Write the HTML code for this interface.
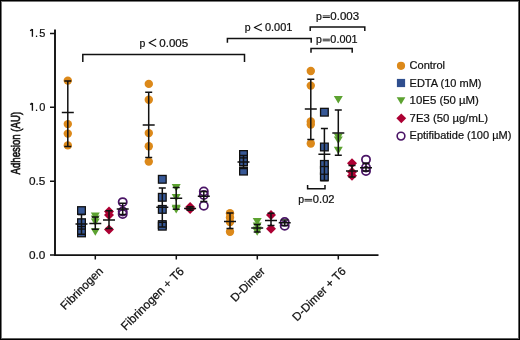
<!DOCTYPE html>
<html><head><meta charset="utf-8"><style>
html,body{margin:0;padding:0;background:#fff;}
body{width:520px;height:340px;overflow:hidden;}
svg{display:block;will-change:transform;}
</style></head><body>
<svg width="520" height="340" viewBox="0 0 520 340">
<rect x="0" y="0" width="520" height="340" fill="#fff"/>

<g stroke="#111" fill="none">
<path d="M55 29.6V255.1H378.5" stroke-width="1.9"/>
<path d="M50 33.4H55M50 107.3H55M50 181.2H55M50 255.1H55" stroke-width="1.5"/>
<path d="M95.3 255V259.6M176.3 255V259.6M257.3 255V259.6M338.3 255V259.6" stroke-width="1.5"/>
</g>
<g stroke="#111" fill="none" stroke-width="1.5">
<path d="M82.8 62V54.5H244.5V62"/>
<path d="M227.4 42.7V38.5H311.2V42.7"/>
<path d="M310.2 31V27H364.8V31"/>
<path d="M311 52.8V48.5H352.2V52.8"/>
<path d="M307.6 185V188.8H325V185"/>
</g>

<circle cx="67.8" cy="80.6" r="4.2" fill="#DC891A"/>
<circle cx="67.8" cy="124.1" r="4.2" fill="#DC891A"/>
<circle cx="67.8" cy="133.6" r="4.2" fill="#DC891A"/>
<circle cx="67.8" cy="145.4" r="4.2" fill="#DC891A"/>
<path d="M67.80 80.90V146.60M64.30 80.90H71.30M64.30 146.60H71.30M61.80 112.50H73.80" stroke="#111" stroke-width="1.5" fill="none"/>
<rect x="77.65" y="206.75" width="7.7" height="7.7" fill="#375896" stroke="#111" stroke-width="1.3"/>
<rect x="77.65" y="222.65" width="7.7" height="7.7" fill="#375896" stroke="#111" stroke-width="1.3"/>
<rect x="77.65" y="218.85" width="7.7" height="7.7" fill="#375896" stroke="#111" stroke-width="1.3"/>
<rect x="77.65" y="229.05" width="7.7" height="7.7" fill="#375896" stroke="#111" stroke-width="1.3"/>
<path d="M81.50 214.40V234.30M78.00 214.40H85.00M78.00 234.30H85.00M75.50 224.00H87.50" stroke="#111" stroke-width="1.5" fill="none"/>
<path d="M90.80 212.40H99.80L95.30 219.90Z" fill="#5CA230"/>
<path d="M90.80 215.50H99.80L95.30 223.00Z" fill="#5CA230"/>
<path d="M90.80 218.50H99.80L95.30 226.00Z" fill="#5CA230"/>
<path d="M90.80 228.30H99.80L95.30 235.80Z" fill="#5CA230"/>
<path d="M95.30 217.10V229.20M91.80 217.10H98.80M91.80 229.20H98.80M89.30 223.40H101.30" stroke="#111" stroke-width="1.5" fill="none"/>
<path d="M109.00 206.60L114.00 211.60L109.00 216.60L104.00 211.60Z" fill="#AC0033"/>
<path d="M109.00 210.00L114.00 215.00L109.00 220.00L104.00 215.00Z" fill="#AC0033"/>
<path d="M109.00 224.50L114.00 229.50L109.00 234.50L104.00 229.50Z" fill="#AC0033"/>
<path d="M109.00 210.70V228.50M105.50 210.70H112.50M105.50 228.50H112.50M103.00 219.90H115.00" stroke="#111" stroke-width="1.5" fill="none"/>
<circle cx="122.7" cy="202.1" r="4.1" fill="none" stroke="#4A1466" stroke-width="1.75"/>
<circle cx="122.7" cy="211.5" r="4.1" fill="none" stroke="#4A1466" stroke-width="1.75"/>
<circle cx="122.7" cy="214.0" r="4.1" fill="none" stroke="#4A1466" stroke-width="1.75"/>
<path d="M122.70 203.20V214.50M119.20 203.20H126.20M119.20 214.50H126.20M116.70 208.90H128.70" stroke="#111" stroke-width="1.5" fill="none"/>
<circle cx="148.8" cy="83.9" r="4.2" fill="#DC891A"/>
<circle cx="148.8" cy="99.8" r="4.2" fill="#DC891A"/>
<circle cx="148.8" cy="133.1" r="4.2" fill="#DC891A"/>
<circle cx="148.8" cy="146.2" r="4.2" fill="#DC891A"/>
<circle cx="148.8" cy="161.6" r="4.2" fill="#DC891A"/>
<path d="M148.70 92.20V157.40M145.20 92.20H152.20M145.20 157.40H152.20M142.70 125.00H154.70" stroke="#111" stroke-width="1.5" fill="none"/>
<rect x="158.45" y="175.45" width="7.7" height="7.7" fill="#375896" stroke="#111" stroke-width="1.3"/>
<rect x="158.45" y="193.45" width="7.7" height="7.7" fill="#375896" stroke="#111" stroke-width="1.3"/>
<rect x="158.45" y="205.55" width="7.7" height="7.7" fill="#375896" stroke="#111" stroke-width="1.3"/>
<rect x="158.45" y="220.75" width="7.7" height="7.7" fill="#375896" stroke="#111" stroke-width="1.3"/>
<rect x="158.45" y="222.35" width="7.7" height="7.7" fill="#375896" stroke="#111" stroke-width="1.3"/>
<path d="M162.30 187.90V227.10M158.80 187.90H165.80M158.80 227.10H165.80M156.30 207.20H168.30" stroke="#111" stroke-width="1.5" fill="none"/>
<path d="M171.70 183.90H180.70L176.20 191.40Z" fill="#5CA230"/>
<path d="M171.70 193.90H180.70L176.20 201.40Z" fill="#5CA230"/>
<path d="M171.70 204.80H180.70L176.20 212.30Z" fill="#5CA230"/>
<path d="M171.70 206.00H180.70L176.20 213.50Z" fill="#5CA230"/>
<path d="M176.20 187.60V209.20M172.70 187.60H179.70M172.70 209.20H179.70M170.20 198.20H182.20" stroke="#111" stroke-width="1.5" fill="none"/>
<path d="M190.10 201.90L195.10 206.90L190.10 211.90L185.10 206.90Z" fill="#AC0033"/>
<path d="M190.10 203.90L195.10 208.90L190.10 213.90L185.10 208.90Z" fill="#AC0033"/>
<path d="M190.10 206.80V210.20M186.60 206.80H193.60M186.60 210.20H193.60M184.10 208.40H196.10" stroke="#111" stroke-width="1.5" fill="none"/>
<circle cx="203.8" cy="191.5" r="4.1" fill="none" stroke="#4A1466" stroke-width="1.75"/>
<circle cx="203.8" cy="195.0" r="4.1" fill="none" stroke="#4A1466" stroke-width="1.75"/>
<circle cx="203.8" cy="205.8" r="4.1" fill="none" stroke="#4A1466" stroke-width="1.75"/>
<path d="M203.80 191.40V201.50M200.30 191.40H207.30M200.30 201.50H207.30M197.80 196.30H209.80" stroke="#111" stroke-width="1.5" fill="none"/>
<circle cx="230.0" cy="213.2" r="4.2" fill="#DC891A"/>
<circle cx="230.0" cy="217.5" r="4.2" fill="#DC891A"/>
<circle cx="230.0" cy="222.0" r="4.2" fill="#DC891A"/>
<circle cx="230.0" cy="231.8" r="4.2" fill="#DC891A"/>
<path d="M230.00 213.00V228.50M226.50 213.00H233.50M226.50 228.50H233.50M224.00 221.50H236.00" stroke="#111" stroke-width="1.5" fill="none"/>
<rect x="239.65" y="150.65" width="7.7" height="7.7" fill="#375896" stroke="#111" stroke-width="1.3"/>
<rect x="239.65" y="157.95" width="7.7" height="7.7" fill="#375896" stroke="#111" stroke-width="1.3"/>
<rect x="239.65" y="167.25" width="7.7" height="7.7" fill="#375896" stroke="#111" stroke-width="1.3"/>
<path d="M243.50 155.60V168.40M240.00 155.60H247.00M240.00 168.40H247.00M237.50 162.00H249.50" stroke="#111" stroke-width="1.5" fill="none"/>
<path d="M252.70 217.90H261.70L257.20 225.40Z" fill="#5CA230"/>
<path d="M252.70 222.50H261.70L257.20 230.00Z" fill="#5CA230"/>
<path d="M252.70 226.50H261.70L257.20 234.00Z" fill="#5CA230"/>
<path d="M252.70 228.30H261.70L257.20 235.80Z" fill="#5CA230"/>
<path d="M257.20 224.50V232.00M253.70 224.50H260.70M253.70 232.00H260.70M251.20 228.00H263.20" stroke="#111" stroke-width="1.5" fill="none"/>
<path d="M271.00 210.00L276.00 215.00L271.00 220.00L266.00 215.00Z" fill="#AC0033"/>
<path d="M271.00 223.70L276.00 228.70L271.00 233.70L266.00 228.70Z" fill="#AC0033"/>
<path d="M271.00 213.20V225.60M267.50 213.20H274.50M267.50 225.60H274.50M265.00 220.60H277.00" stroke="#111" stroke-width="1.5" fill="none"/>
<circle cx="284.7" cy="221.9" r="4.1" fill="none" stroke="#4A1466" stroke-width="1.75"/>
<circle cx="284.7" cy="225.8" r="4.1" fill="none" stroke="#4A1466" stroke-width="1.75"/>
<path d="M284.70 220.10V225.60M281.20 220.10H288.20M281.20 225.60H288.20M278.70 222.70H290.70" stroke="#111" stroke-width="1.5" fill="none"/>
<circle cx="310.8" cy="71.0" r="4.2" fill="#DC891A"/>
<circle cx="310.8" cy="85.6" r="4.2" fill="#DC891A"/>
<circle cx="310.8" cy="121.5" r="4.2" fill="#DC891A"/>
<circle cx="310.8" cy="124.5" r="4.2" fill="#DC891A"/>
<circle cx="310.8" cy="143.5" r="4.2" fill="#DC891A"/>
<path d="M310.80 79.20V139.60M307.30 79.20H314.30M307.30 139.60H314.30M304.80 109.00H316.80" stroke="#111" stroke-width="1.5" fill="none"/>
<rect x="320.55" y="108.35" width="7.7" height="7.7" fill="#375896" stroke="#111" stroke-width="1.3"/>
<rect x="320.55" y="143.15" width="7.7" height="7.7" fill="#375896" stroke="#111" stroke-width="1.3"/>
<rect x="320.55" y="160.55" width="7.7" height="7.7" fill="#375896" stroke="#111" stroke-width="1.3"/>
<rect x="320.55" y="173.05" width="7.7" height="7.7" fill="#375896" stroke="#111" stroke-width="1.3"/>
<rect x="320.55" y="166.55" width="7.7" height="7.7" fill="#375896" stroke="#111" stroke-width="1.3"/>
<path d="M324.40 128.60V180.60M320.90 128.60H327.90M320.90 180.60H327.90M318.40 154.20H330.40" stroke="#111" stroke-width="1.5" fill="none"/>
<path d="M333.80 96.00H342.80L338.30 103.50Z" fill="#5CA230"/>
<path d="M333.80 133.50H342.80L338.30 141.00Z" fill="#5CA230"/>
<path d="M333.80 136.50H342.80L338.30 144.00Z" fill="#5CA230"/>
<path d="M333.80 146.80H342.80L338.30 154.30Z" fill="#5CA230"/>
<path d="M338.30 110.10V155.30M334.80 110.10H341.80M334.80 155.30H341.80M332.30 132.90H344.30" stroke="#111" stroke-width="1.5" fill="none"/>
<path d="M352.00 158.30L357.00 163.30L352.00 168.30L347.00 163.30Z" fill="#AC0033"/>
<path d="M352.00 167.00L357.00 172.00L352.00 177.00L347.00 172.00Z" fill="#AC0033"/>
<path d="M352.00 170.70L357.00 175.70L352.00 180.70L347.00 175.70Z" fill="#AC0033"/>
<path d="M352.00 165.40V177.00M348.50 165.40H355.50M348.50 177.00H355.50M346.00 171.10H358.00" stroke="#111" stroke-width="1.5" fill="none"/>
<circle cx="366.0" cy="159.6" r="4.1" fill="none" stroke="#4A1466" stroke-width="1.75"/>
<circle cx="366.0" cy="167.5" r="4.1" fill="none" stroke="#4A1466" stroke-width="1.75"/>
<circle cx="366.0" cy="171.0" r="4.1" fill="none" stroke="#4A1466" stroke-width="1.75"/>
<path d="M366.00 163.20V171.10M362.50 163.20H369.50M362.50 171.10H369.50M360.00 167.70H372.00" stroke="#111" stroke-width="1.5" fill="none"/>
<g font-family="Liberation Sans, sans-serif" fill="#111" stroke="#111" stroke-width="0.22">
<text x="45.3" y="37.2" font-size="11" text-anchor="end" textLength="10.4" lengthAdjust="spacing">.5</text>
<path d="M32.4 36.85V29.00M30.0 30.55Q31.6 30.20 32.3 29.00" fill="none" stroke="#111" stroke-width="1.35"/>
<text x="45.3" y="111.1" font-size="11" text-anchor="end" textLength="10.4" lengthAdjust="spacing">.0</text>
<path d="M32.4 110.75V102.90M30.0 104.45Q31.6 104.10 32.3 102.90" fill="none" stroke="#111" stroke-width="1.35"/>
<text x="45.3" y="185.0" font-size="11" text-anchor="end" textLength="16.4" lengthAdjust="spacingAndGlyphs" >0.5</text>
<text x="45.3" y="258.9" font-size="11" text-anchor="end" textLength="16.4" lengthAdjust="spacingAndGlyphs" >0.0</text>
<text transform="translate(20.0,143.2) rotate(-90)" font-size="13.3" text-anchor="middle" textLength="62.6" lengthAdjust="spacingAndGlyphs" stroke="#111" stroke-width="0.65">Adhesion (AU)</text>
<text transform="translate(103.7,272.0) rotate(-45)" font-size="11.55" stroke="#111" stroke-width="0.25" text-anchor="end">Fibrinogen</text>
<text transform="translate(184.7,272.0) rotate(-45)" font-size="11.9" stroke="#111" stroke-width="0.25" text-anchor="end">Fibrinogen + T6</text>
<text transform="translate(265.7,272.0) rotate(-45)" font-size="11.6" stroke="#111" stroke-width="0.25" text-anchor="end">D-Dimer</text>
<text transform="translate(346.7,272.0) rotate(-45)" font-size="11.7" stroke="#111" stroke-width="0.25" text-anchor="end">D-Dimer + T6</text>
<text x="139.6" y="46.5" font-size="10.5" text-anchor="start" >p</text>
<text x="159.25" y="46.5" font-size="10.5" text-anchor="start" textLength="28.9" lengthAdjust="spacingAndGlyphs" >0.005</text>
<path d="M156.2 39.10L149.1 42.80L156.2 46.50" fill="none" stroke="#111" stroke-width="1.1" stroke-linejoin="round"/>
<text x="244.8" y="31.1" font-size="10.5" text-anchor="start" >p</text>
<text x="264.95" y="31.1" font-size="10.5" text-anchor="start" textLength="27.5" lengthAdjust="spacingAndGlyphs" >0.001</text>
<path d="M261.9 23.70L254.3 27.40L261.9 31.10" fill="none" stroke="#111" stroke-width="1.1" stroke-linejoin="round"/>
<text x="315.9" y="19.7" font-size="10.5" text-anchor="start" >p</text>
<text x="330.35" y="19.7" font-size="10.5" text-anchor="start" textLength="28.8" lengthAdjust="spacingAndGlyphs" >0.003</text>
<path d="M322.7 15.90H329.9M322.7 17.50H329.9" fill="none" stroke="#222" stroke-width="1.0"/>
<text x="315.9" y="43.0" font-size="10.5" text-anchor="start" >p</text>
<text x="330.35" y="43.0" font-size="10.5" text-anchor="start" textLength="27.2" lengthAdjust="spacingAndGlyphs" >0.001</text>
<path d="M322.7 39.20H329.9M322.7 40.80H329.9" fill="none" stroke="#222" stroke-width="1.0"/>
<text x="298.2" y="203.2" font-size="10.5" text-anchor="start" >p</text>
<text x="312.85" y="203.2" font-size="10.5" text-anchor="start" textLength="21.7" lengthAdjust="spacingAndGlyphs" >0.02</text>
<path d="M304.5 199.40H312.2M304.5 201.00H312.2" fill="none" stroke="#222" stroke-width="1.0"/>
<text x="409.6" y="69.3" font-size="11" text-anchor="start" >Control</text>
<text x="409.6" y="86.7" font-size="11" text-anchor="start" >EDTA (10 mM)</text>
<text x="409.6" y="104.3" font-size="11" text-anchor="start" textLength="69.3" lengthAdjust="spacingAndGlyphs" >10E5 (50 µM)</text>
<text x="409.6" y="121.7" font-size="11" text-anchor="start" textLength="78.4" lengthAdjust="spacingAndGlyphs" >7E3 (50 µg/mL)</text>
<text x="409.6" y="139.0" font-size="11" text-anchor="start" >Eptifibatide (100 µM)</text>
</g>

<circle cx="401" cy="65.8" r="4.1" fill="#DC891A"/>
<rect x="396.9" y="78.9" width="8.2" height="8.2" fill="#2F4E8E"/>
<path d="M396.7 97.2H405.4L401.05 104.5Z" fill="#5CA230"/>
<path d="M401.3 113.4L406.2 118.3L401.3 123.2L396.4 118.3Z" fill="#AC0033"/>
<circle cx="401" cy="136.1" r="3.85" fill="none" stroke="#4A1466" stroke-width="1.6"/>

<g shape-rendering="crispEdges">
<rect x="0" y="0" width="520" height="1" fill="#000"/>
<rect x="1" y="1" width="517" height="1" fill="#777"/>
<rect x="0" y="0" width="1" height="340" fill="#000"/>
<rect x="1" y="1" width="1" height="337" fill="#777"/>
<rect x="519" y="0" width="1" height="340" fill="#000"/>
<rect x="518" y="1" width="1" height="338" fill="#606060"/>
<rect x="0" y="339" width="520" height="1" fill="#000"/>
<rect x="1" y="338" width="518" height="1" fill="#606060"/>
</g>
</svg>
</body></html>
